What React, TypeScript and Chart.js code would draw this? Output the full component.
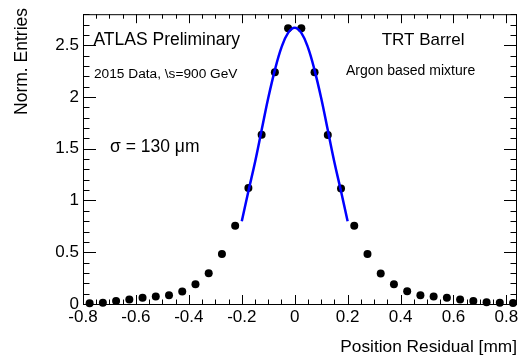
import React, { useEffect, useRef } from "react";
import { Chart, registerables } from "chart.js";

Chart.register(...registerables);

// Histogram bin centres [mm]
const binCenters = [
  -0.775, -0.725, -0.675, -0.625, -0.575, -0.525, -0.475, -0.425, -0.375, -0.325, -0.275,
  -0.225, -0.175, -0.125, -0.075, -0.025, 0.025, 0.075, 0.125, 0.175, 0.225, 0.275, 0.325,
  0.375, 0.425, 0.475, 0.525, 0.575, 0.625, 0.675, 0.725, 0.775, 0.825,
];
// Normalised entries
const entries = [
  0.008, 0.013, 0.028, 0.044, 0.06, 0.072, 0.085, 0.12, 0.19, 0.296, 0.484, 0.757, 1.12,
  1.636, 2.24, 2.665, 2.665, 2.239, 1.632, 1.116, 0.755, 0.484, 0.294, 0.19, 0.123, 0.085,
  0.072, 0.06, 0.044, 0.028, 0.017, 0.012, 0.009,
];
// Gaussian fit curve
const fitX = [
  -0.2, -0.175, -0.15, -0.125, -0.1, -0.075, -0.05, -0.025, 0, 0.025, 0.05, 0.075, 0.1, 0.125,
  0.15, 0.175, 0.2,
];
const fitY = [
  0.8, 1.09, 1.37, 1.68, 1.99, 2.26, 2.48, 2.62, 2.67, 2.62, 2.48, 2.26, 1.99, 1.68, 1.37,
  1.09, 0.8,
];

const xMin = -0.8;
const xMax = 0.84;
const yMin = 0;
const yMax = 2.8;
const xMajorStep = 0.2;
const xMinorStep = 0.05;
const yMajorStep = 0.5;
const yMinorStep = 0.1;

const FONT = "'Liberation Sans', Arial, Helvetica, sans-serif";

const fmt = (v: any) => String(Number(Number(v).toFixed(3)));

const decorPlugin = {
  id: "rootDecor",
  beforeDatasetsDraw(chart: any) {
    const { ctx, chartArea } = chart;
    const { left, right, top, bottom } = chartArea;
    const xs = chart.scales.x;
    const ys = chart.scales.y;
    ctx.save();
    ctx.strokeStyle = "#000";
    ctx.lineWidth = 1;
    ctx.beginPath();
    ctx.rect(left + 0.5, top + 0.5, right - left - 1, bottom - top);
    ctx.stroke();
    ctx.beginPath();
    const nx = Math.round((0.8 - xMin) / xMinorStep);
    for (let i = 0; i <= nx + 1; i++) {
      const v = xMin + i * xMinorStep;
      if (v > xMax + 1e-9) break;
      const major = Math.abs(v / xMajorStep - Math.round(v / xMajorStep)) < 1e-6;
      const len = major ? 9 : 4.5;
      const px = Math.round(xs.getPixelForValue(v)) + 0.5;
      ctx.moveTo(px, bottom);
      ctx.lineTo(px, bottom - len);
      ctx.moveTo(px, top);
      ctx.lineTo(px, top + len);
    }
    const ny = Math.round((yMax - yMin) / yMinorStep);
    for (let i = 0; i <= ny; i++) {
      const v = yMin + i * yMinorStep;
      const major = Math.abs(v / yMajorStep - Math.round(v / yMajorStep)) < 1e-6;
      const len = major ? 13 : 6.5;
      const py = Math.round(ys.getPixelForValue(v)) + 0.5;
      ctx.moveTo(left, py);
      ctx.lineTo(left + len, py);
      ctx.moveTo(right, py);
      ctx.lineTo(right - len, py);
    }
    ctx.stroke();
    ctx.restore();
  },
  afterDraw(chart: any) {
    const { ctx } = chart;
    ctx.save();
    ctx.fillStyle = "#000";
    ctx.textBaseline = "alphabetic";
    ctx.textAlign = "left";
    ctx.font = `17.5px ${FONT}`;
    ctx.fillText("ATLAS Preliminary", 93.5, 45);
    ctx.font = `13.7px ${FONT}`;
    ctx.fillText("2015 Data, \\s=900 GeV", 94, 78.3);
    ctx.font = `17.5px ${FONT}`;
    ctx.fillText("σ = 130 μm", 110, 151.7);
    ctx.font = `17px ${FONT}`;
    ctx.fillText("TRT Barrel", 381.7, 45);
    ctx.font = `14px ${FONT}`;
    ctx.fillText("Argon based mixture", 346, 75.3);
    ctx.font = `17.3px ${FONT}`;
    ctx.textAlign = "right";
    ctx.fillText("Position Residual [mm]", 517, 351.7);
    ctx.translate(27, 8);
    ctx.rotate(-Math.PI / 2);
    ctx.font = `17.5px ${FONT}`;
    ctx.textAlign = "right";
    ctx.fillText("Norm. Entries", 0, 0);
    ctx.restore();
  },
};

export default function App() {
  const ref = useRef<HTMLCanvasElement | null>(null);
  useEffect(() => {
    if (!ref.current) return;
    const chart = new Chart(ref.current, {
      type: "scatter",
      data: {
        datasets: [
          {
            label: "fit",
            data: fitX.map((x, i) => ({ x, y: fitY[i] })),
            showLine: true,
            borderColor: "#0000ff",
            borderWidth: 2.5,
            pointRadius: 0,
            tension: 0.4,
            fill: false,
            order: 0,
            clip: false,
          },
          {
            label: "data",
            data: binCenters.map((x, i) => ({ x, y: entries[i] })),
            showLine: false,
            backgroundColor: "#000",
            borderColor: "#000",
            pointRadius: 4,
            pointBorderWidth: 0,
            order: 1,
            clip: false,
          },
        ] as any,
      },
      options: {
        animation: false,
        responsive: false,
        devicePixelRatio: 1,
        layout: { padding: { left: 0, right: 9, top: 9, bottom: 0 } },
        plugins: { legend: { display: false }, tooltip: { enabled: false } },
        scales: {
          x: {
            type: "linear",
            position: "bottom",
            min: xMin,
            max: xMax,
            grid: { display: false, drawTicks: false },
            border: { display: false },
            ticks: {
              stepSize: xMajorStep,
              includeBounds: false,
              autoSkip: false,
              maxRotation: 0,
              padding: 3,
              color: "#000",
              font: { family: FONT, size: 17 },
              callback: fmt,
            },
            afterFit: (s: any) => {
              s.height = 54;
            },
          },
          y: {
            type: "linear",
            min: yMin,
            max: yMax,
            grid: { display: false, drawTicks: false },
            border: { display: false },
            ticks: {
              stepSize: yMajorStep,
              includeBounds: false,
              autoSkip: false,
              padding: 4,
              color: "#000",
              font: { family: FONT, size: 17 },
              callback: fmt,
            },
            afterFit: (s: any) => {
              s.width = 83;
            },
          },
        },
      } as any,
      plugins: [decorPlugin],
    });
    return () => chart.destroy();
  }, []);
  return (
    <div style={{ position: "absolute", left: 0, top: 0, width: 526, height: 358, background: "#fff" }}>
      <canvas ref={ref} width={526} height={358} style={{ display: "block" }} />
    </div>
  );
}
